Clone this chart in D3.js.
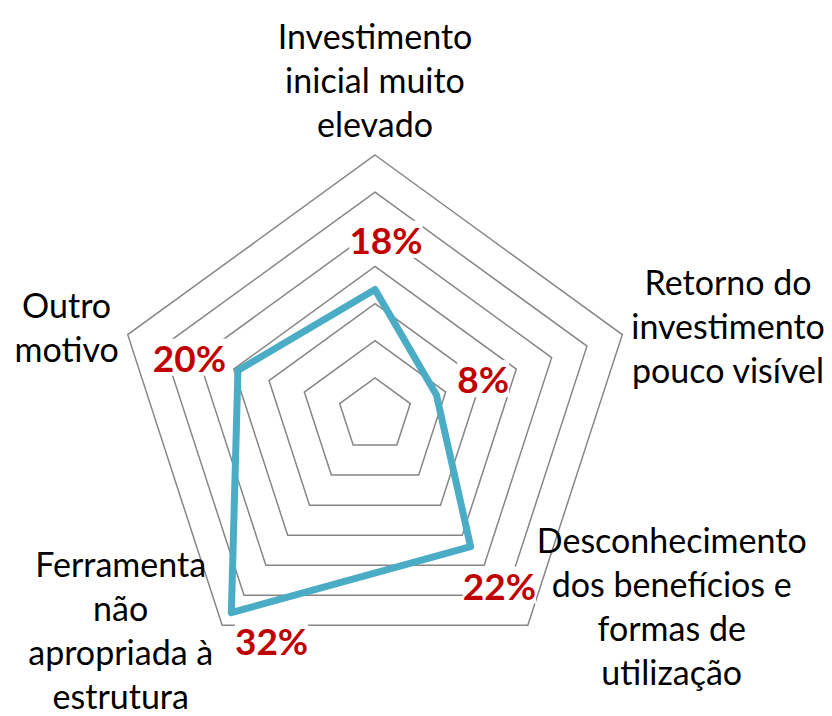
<!DOCTYPE html>
<html lang="pt">
<head>
<meta charset="UTF-8">
<title>Radar</title>
<script src="https://d3js.org/d3.v7.min.js"></script>
<style>
  body { margin: 0; background: #fff; }
  svg { display: block; }
  text { font-family: Lato, "Open Sans", sans-serif; }
</style>
</head>
<body>
<svg id="chart"></svg>
<script>
// categories, one line of text per entry
const categories = [
  ["Investimento", "inicial muito", "elevado"],
  ["Retorno do", "investimento", "pouco visível"],
  ["Desconhecimento", "dos benefícios e", "formas de", "utilização"],
  ["Ferramenta", "não", "apropriada à", "estrutura"],
  ["Outro", "motivo"]
];
const values      = [16.9, 8.7, 21.9, 32.9, 19.4];
const valueLabels = ["18%", "8%", "22%", "32%", "20%"];
const ringTicks   = [5, 10, 15, 20, 25, 30, 35];

const width = 832, height = 716;
const cx = 375, cy = 415, R = 260;

const svg = d3.select("#chart")
  .attr("width", width).attr("height", height)
  .attr("viewBox", [0, 0, width, height]);

const r = d3.scaleLinear().domain([0, d3.max(ringTicks)]).range([0, R]);
const angle = d3.scaleLinear().domain([0, categories.length]).range([0, 2 * Math.PI]);
const polar = (i, rad) => [cx + rad * Math.sin(angle(i)), cy - rad * Math.cos(angle(i))];

const g = svg.append("g");

// concentric pentagons
const ring = d3.line().curve(d3.curveLinearClosed);
g.append("g").selectAll("path")
  .data(ringTicks)
  .join("path")
  .attr("d", t => ring(categories.map((c, i) => polar(i, r(t)))))
  .attr("fill", "none")
  .attr("stroke", "#868686")
  .attr("stroke-width", 1.5);

// series
const radial = d3.lineRadial()
  .angle((d, i) => angle(i))
  .radius(d => r(d))
  .curve(d3.curveLinearClosed);
g.append("path")
  .datum(values)
  .attr("transform", `translate(${cx},${cy})`)
  .attr("d", radial)
  .attr("fill", "none")
  .attr("stroke", "#4BACC6")
  .attr("stroke-width", 7)
  .attr("stroke-linejoin", "round");

// data labels, pushed outward along each axis
const labelGap = 49;
const labelNudge = [[11, 0], [0, 0], [0, 0], [69, -11], [-2, 3]];
const dl = g.append("g").selectAll("g")
  .data(values)
  .join("g")
  .attr("transform", (d, i) => {
    const [x, y] = polar(i, r(d) + labelGap);
    return `translate(${x + labelNudge[i][0]},${y + labelNudge[i][1]})`;
  });
dl.append("text")
  .attr("text-anchor", "middle")
  .attr("dy", "0.36em")
  .attr("font-size", 37)
  .attr("font-weight", "bold")
  .attr("fill", "#C00000")
  .text((d, i) => valueLabels[i]);
dl.each(function () {
  const t = d3.select(this).select("text");
  const b = t.node().getBBox();
  d3.select(this).insert("rect", "text")
    .attr("x", b.x).attr("y", b.y + 4)
    .attr("width", b.width).attr("height", b.height - 8)
    .attr("fill", "#fff");
});

// category labels
const lineH = 44, catGap = 9;
const catNudge = [[0, 0], [0, -8], [0, -18], [0, 6], [0, -7]];
categories.forEach((lines, i) => {
  const [vx, vy] = polar(i, R);
  const txt = g.append("text")
    .attr("font-size", 34)
    .attr("fill", "#000")
    .attr("text-anchor", "middle");
  lines.forEach((s, k) => {
    txt.append("tspan").attr("x", 0).attr("y", k * lineH).text(s);
  });
  const w = d3.max(txt.selectAll("tspan").nodes(), n => n.getComputedTextLength());
  const s = Math.sin(angle(i));
  let x, y;
  if (Math.abs(s) < 0.01) {
    x = vx;
    y = vy - 18 - (lines.length - 1) * lineH;           // last baseline above the vertex
  } else {
    x = s > 0 ? vx + catGap + w / 2 : vx - catGap - w / 2;
    y = vy - ((lines.length - 1) * lineH) / 2 + 12;      // block centred on the vertex
  }
  txt.attr("transform", `translate(${x + catNudge[i][0]},${y + catNudge[i][1]})`);
});
</script>
</body>
</html>
